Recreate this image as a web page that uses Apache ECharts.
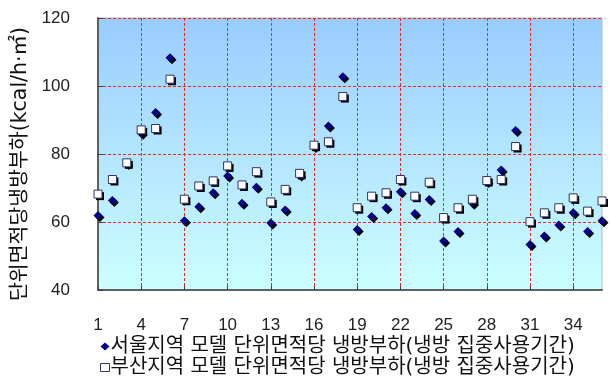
<!DOCTYPE html>
<html>
<head>
<meta charset="utf-8">
<script src="https://cdn.jsdelivr.net/npm/echarts@6/dist/echarts.min.js"></script>
<style>
  html, body { margin: 0; padding: 0; background: #fff; }
  #chart { width: 610px; height: 377px; }
</style>
</head>
<body>
<div id="chart"></div>
<script>
// Periods 1..36
const periods = ['1','2','3','4','5','6','7','8','9','10','11','12','13','14','15','16','17','18',
  '19','20','21','22','23','24','25','26','27','28','29','30','31','32','33','34','35','36'];

// Cooling load per unit floor area, peak-use period (kcal/h·㎡)
const seoulLoad = [61.9, 66.3, 77.2, 86.1, 92.2, 108.3, 60.4, 64.5, 68.6, 73.5, 65.5, 70.2,
  59.7, 63.5, 73.8, 82.2, 88.2, 102.7, 57.8, 61.6, 64.2, 68.9, 62.5, 66.6,
  54.4, 57.2, 65.5, 71.9, 75.3, 86.9, 53.4, 55.9, 59.1, 62.7, 57.2, 60.4];
const busanLoad = [68.2, 72.5, 77.4, 87.1, 87.5, 102.0, 66.7, 70.6, 72.1, 76.5, 70.9, 74.8,
  65.9, 69.6, 74.3, 82.6, 83.6, 96.9, 64.2, 67.6, 68.6, 72.5, 67.6, 71.7,
  61.3, 64.2, 66.7, 72.2, 72.5, 82.2, 60.1, 62.7, 64.2, 67.1, 63.2, 66.2];

const seoulName = '서울지역 모델 단위면적당 냉방부하(냉방 집중사용기간)';
const busanName = '부산지역 모델 단위면적당 냉방부하(냉방 집중사용기간)';
const yTitle = '단위면적당냉방부하(kcal/h·㎡)';
const yTicks = { min: 40, max: 120, interval: 20 };

const numFont = "'Liberation Sans', Arial, sans-serif";
const krFont = "'DejaVu Sans', 'Noto Sans CJK KR', sans-serif";

const chart = echarts.init(document.getElementById('chart'), null, { renderer: 'canvas' });

const gridLine = { show: true, lineStyle: { color: '#ff2020', width: 1, type: [3, 2] } };
const noShadow = { shadowBlur: 0, shadowOffsetX: 0, shadowOffsetY: 0, shadowColor: 'transparent' };

chart.setOption({
  animation: false,
  grid: {
    left: 98, right: 8, top: 18, bottom: 87,
    show: true,
    borderColor: '#b8b8b8',
    borderWidth: 1,
    backgroundColor: {
      type: 'linear', x: 0, y: 0, x2: 0, y2: 1,
      colorStops: [
        { offset: 0, color: '#99ccff' },
        { offset: 1, color: '#ccffff' }
      ]
    }
  },
  legend: {
    orient: 'vertical',
    left: 100,
    top: 336,
    width: 510,
    height: 60,
    itemGap: 0,
    itemWidth: 9,
    itemHeight: 8,
    padding: 0,
    textStyle: { fontFamily: krFont, fontSize: 20, lineHeight: 21, color: '#111', padding: [0, 0, 0, -4] },
    data: [
      { name: seoulName, icon: 'diamond',
        itemStyle: Object.assign({ color: '#000080', borderWidth: 0, opacity: 1 }, noShadow) },
      { name: busanName, icon: 'rect',
        itemStyle: Object.assign({ color: '#ffffff', borderColor: '#333366', borderWidth: 1, opacity: 1 }, noShadow) }
    ]
  },
  xAxis: {
    type: 'category',
    data: periods,
    boundaryGap: false,
    axisLine: { show: true, lineStyle: { color: '#606060', width: 2 } },
    axisTick: { show: true, inside: true, length: 4, interval: 2, lineStyle: { color: '#404040' } },
    axisLabel: { interval: 2, margin: 27, fontFamily: numFont, fontSize: 17, color: '#222' },
    splitLine: Object.assign({ interval: 2 }, gridLine)
  },
  yAxis: {
    type: 'value',
    min: yTicks.min, max: yTicks.max, interval: yTicks.interval,
    name: yTitle,
    nameLocation: 'middle',
    nameGap: 56,
    nameTextStyle: { fontFamily: krFont, fontSize: 20.5, color: '#111', padding: [0, 20, 0, 0] },
    axisLine: { show: true, lineStyle: { color: '#606060', width: 2 } },
    axisTick: { show: true, inside: true, length: 5, lineStyle: { color: '#404040' } },
    axisLabel: { margin: 28, fontFamily: numFont, fontSize: 17, color: '#222' },
    splitLine: gridLine
  },
  series: [
    {
      name: seoulName,
      type: 'scatter',
      data: seoulLoad,
      symbol: 'diamond',
      symbolSize: [9, 9],
      itemStyle: { color: '#000080', opacity: 1, shadowColor: '#000', shadowBlur: 0, shadowOffsetX: 2, shadowOffsetY: 2 },
      z: 2
    },
    {
      // drop shadow under the Busan squares
      type: 'scatter',
      data: busanLoad,
      symbol: 'rect',
      symbolSize: [8, 8],
      symbolOffset: [2, 2],
      silent: true,
      itemStyle: { color: '#000000', opacity: 1 },
      z: 3
    },
    {
      name: busanName,
      type: 'scatter',
      data: busanLoad,
      symbol: 'rect',
      symbolSize: [8, 8],
      itemStyle: Object.assign({ color: '#ffffff', borderColor: '#333366', borderWidth: 1, opacity: 1 }, noShadow),
      z: 4
    }
  ]
});
</script>
</body>
</html>
